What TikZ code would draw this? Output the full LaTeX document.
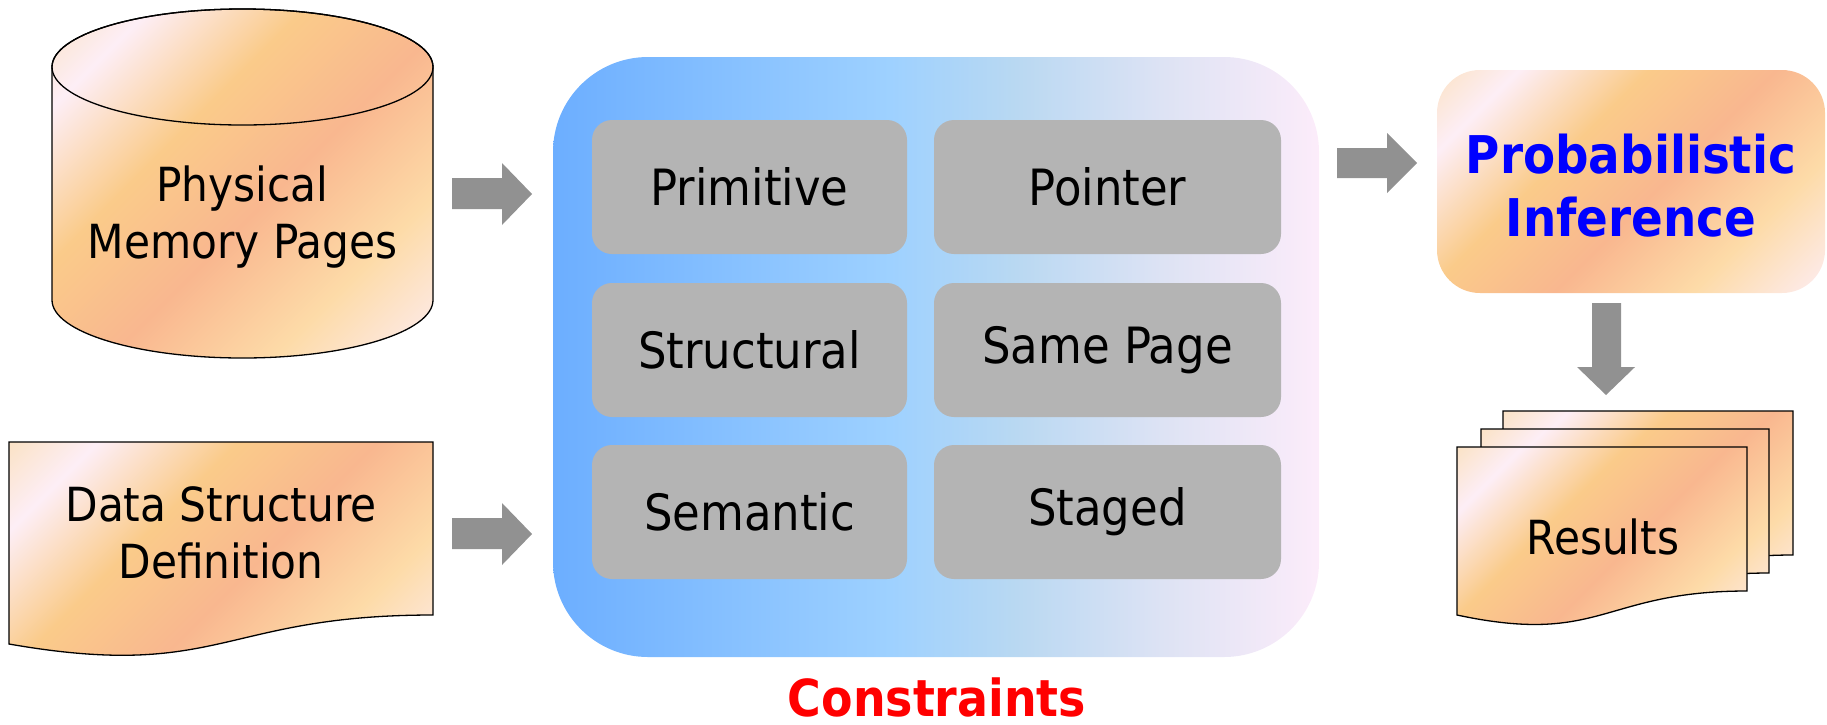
\documentclass[tikz,border=0pt]{standalone}
\usepackage{fontspec}
\setmainfont{DejaVu Sans Condensed}
\usetikzlibrary{arrows.meta}
\definecolor{pk1}{RGB}{251,227,200}
\definecolor{pk2}{RGB}{253,238,246}
\definecolor{pk3}{RGB}{250,203,138}
\definecolor{pk4}{RGB}{249,183,143}
\definecolor{pk5}{RGB}{253,219,168}
\definecolor{pk6}{RGB}{253,236,240}
\definecolor{bl1}{RGB}{108,174,255}
\definecolor{bl2}{RGB}{158,209,255}
\definecolor{bl3}{RGB}{184,216,242}
\definecolor{bl4}{RGB}{222,227,244}
\definecolor{bl5}{RGB}{252,236,250}
\definecolor{cgray}{RGB}{180,180,180}
\definecolor{agray}{RGB}{145,145,145}
\definecolor{pblue}{RGB}{0,0,255}
\definecolor{cred}{RGB}{255,0,0}
\pgfdeclarehorizontalshading{peach}{100bp}{color(0bp)=(pk1); color(15bp)=(pk1); color(24bp)=(pk2); color(39bp)=(pk3); color(54bp)=(pk4); color(70bp)=(pk5); color(85bp)=(pk6); color(100bp)=(pk6)}
\pgfdeclarehorizontalshading{skyfade}{100bp}{color(0bp)=(bl1); color(25bp)=(bl1); color(47bp)=(bl2); color(55bp)=(bl3); color(65bp)=(bl4); color(75bp)=(bl5); color(100bp)=(bl5)}
\tikzset{
  peachfill/.style={shading=peach, shading angle=-45, draw=black, line width=1.3pt},
  cbox/.style={fill=cgray, rounded corners=20pt, minimum height=134pt, inner sep=0pt, font=\fontsize{50}{60}\selectfont},
  blockarrow/.style={fill=agray, draw=none},
  bodytext/.style={align=center, font=\fontsize{47}{57}\selectfont}
}
\begin{document}
\begin{tikzpicture}[x=1pt,y=-1pt]
\useasboundingbox (0,0) rectangle (1827,724);
% cylinder
\path[peachfill] (52,67) -- (52,300) arc[start angle=180,end angle=0,x radius=190.5,y radius=58] -- (433,67) arc[start angle=0,end angle=-180,x radius=190.5,y radius=58] -- cycle;
\draw[line width=1.3pt] (242.5,67) ellipse[x radius=190.5,y radius=58];
\node[bodytext] (mem) at (242.5,217) {Physical\\Memory Pages};
% data structure document
\path[peachfill] (9,442) -- (433,442) -- (433,615) .. controls (221,615) and (221,681) .. (9,644) -- cycle;
\node[bodytext] (dsd) at (221,533) {Data Structure\\Definition};
% constraints box
\node[shade, shading=skyfade, rounded corners=95pt, minimum width=766pt, minimum height=600pt, inner sep=0pt] (cons) at (936,357) {};
\node[cbox, minimum width=315pt] (prim) at (749.5,187) {Primitive};
\node[cbox, minimum width=347pt] (ptr) at (1107.5,187) {Pointer};
\node[cbox, minimum width=315pt] (str) at (749.5,350) {Structural};
\node[cbox, minimum width=347pt] (same) at (1107.5,350) {Same Page};
\node[cbox, minimum width=315pt] (sem) at (749.5,512) {Semantic};
\node[cbox, minimum width=347pt] (stg) at (1107.5,512) {Staged};
\node[anchor=base, inner sep=0pt, text=cred, font=\fontsize{51}{60}\bfseries\selectfont] (clabel) at (937,716) {Constraints};
% probabilistic inference
\node[shade, shading=peach, shading angle=-45, rounded corners=43pt, minimum width=388pt, minimum height=223pt, inner sep=0pt] (prob) at (1631,181.5) {};
\node[align=center, text=pblue, font=\fontsize{52}{63}\bfseries\selectfont] (probt) at (1631,186) {Probabilistic\\Inference};
% results stack
\path[peachfill] (1503,411) -- (1793,411) -- (1793,555) .. controls (1648,555) and (1648,610) .. (1503,579) -- cycle;
\path[peachfill] (1481,429) -- (1769,429) -- (1769,573) .. controls (1625,573) and (1625,628) .. (1481,597) -- cycle;
\path[peachfill] (1457,447) -- (1747,447) -- (1747,591) .. controls (1602,591) and (1602,646) .. (1457,615) -- cycle;
\node[bodytext] (res) at (1603,537) {Results};
% block arrows
\fill[blockarrow] (452,178) -- (502,178) -- (502,163) -- (532,194) -- (502,225) -- (502,209) -- (452,209) -- cycle;
\fill[blockarrow] (452,518) -- (502,518) -- (502,503) -- (532,534) -- (502,565) -- (502,549) -- (452,549) -- cycle;
\fill[blockarrow] (1337,148) -- (1387,148) -- (1387,133) -- (1417,163) -- (1387,193) -- (1387,178) -- (1337,178) -- cycle;
\fill[blockarrow] (1592,303) -- (1621,303) -- (1621,367) -- (1635,367) -- (1606,395) -- (1577,367) -- (1592,367) -- cycle;
\end{tikzpicture}
\end{document}
